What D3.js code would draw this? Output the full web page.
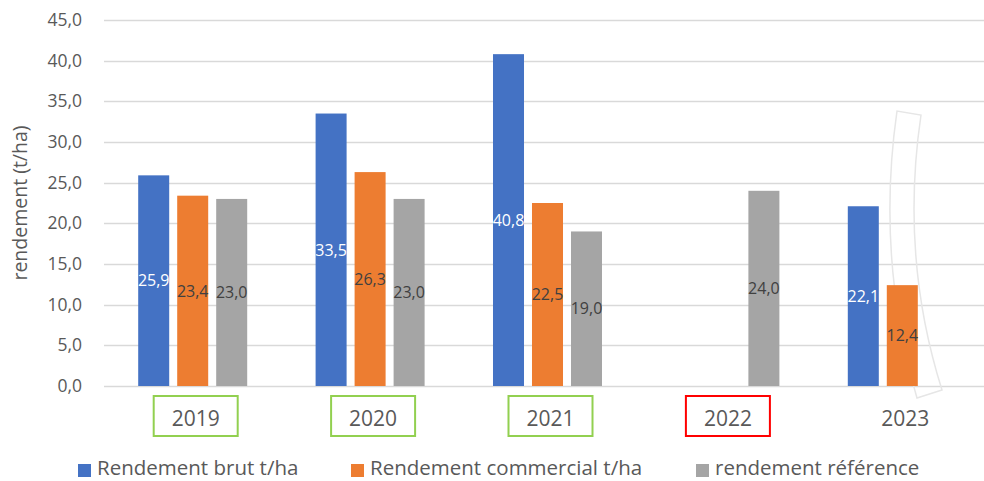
<!DOCTYPE html>
<html>
<head>
<meta charset="utf-8">
<script src="https://cdn.jsdelivr.net/npm/d3@7"></script>
<style>
    body { margin: 0; background: #fff; overflow: hidden; }
    text { font-family: "Open Sans", "Liberation Sans", sans-serif; }
</style>
</head>
<body>
<div id="chart"></div>
<script>
// data
const years = ["2019", "2020", "2021", "2022", "2023"];
const seriesNames = ["Rendement brut t/ha", "Rendement commercial t/ha", "rendement référence"];
const brut = [25.9, 33.5, 40.8, null, 22.1];
const commercial = [23.4, 26.3, 22.5, null, 12.4];
const reference = [23.0, 23.0, 19.0, 24.0, null];
const yTicks = [0, 5, 10, 15, 20, 25, 30, 35, 40, 45];

const colors = ["#4472C4", "#ED7D31", "#A5A5A5"];
const labelColors = ["#ffffff", "#404040", "#404040"];
// frames drawn around the year labels (2023 has none)
const frameColors = ["#92D050", "#92D050", "#92D050", "#FF0000", null];

const width = 984, height = 481;
const margin = {top: 20, right: -7, bottom: 95, left: 104};

let svg = d3.select("#chart").append("svg")
    .attr("width", width)
    .attr("height", height)
    .style("display", "block");

let x = d3.scaleBand()
    .domain(years)
    .range([margin.left, width - margin.right])
    .padding(0);

let groupW = 117;
let xInner = d3.scaleBand()
    .domain(d3.range(3))
    .range([(x.bandwidth() - groupW) / 2, (x.bandwidth() + groupW) / 2])
    .paddingInner(0.205)
    .paddingOuter(0.1025);

let y = d3.scaleLinear()
    .domain([0, 45])
    .range([height - margin.bottom, margin.top]);

let fmt = v => d3.format(".1f")(v).replace(".", ",");

// gridlines
svg.append("g")
    .selectAll("line")
    .data(yTicks)
    .enter()
    .append("line")
    .attr("x1", margin.left)
    .attr("x2", width)
    .attr("y1", d => Math.round(y(d)) + 0.5)
    .attr("y2", d => Math.round(y(d)) + 0.5)
    .attr("stroke", "#d9d9d9")
    .attr("stroke-width", 1.3);

// y tick labels
svg.append("g")
    .selectAll("text")
    .data(yTicks)
    .enter()
    .append("text")
    .attr("x", 82)
    .attr("y", d => y(d))
    .attr("dy", "0.35em")
    .attr("text-anchor", "end")
    .style("font-size", "17.5px")
    .style("fill", "#595959")
    .text(d => fmt(d));

// axis title
svg.append("text")
    .attr("transform", "translate(20," + y(22.5) + ") rotate(-90)")
    .attr("text-anchor", "middle")
    .attr("dy", "0.35em")
    .style("font-size", "19.5px")
    .style("fill", "#595959")
    .text("rendement (t/ha)");

// decorative curved frame near 2023
svg.append("path")
    .attr("d", "M897,111 Q876,257 917,398 L942,390 Q900,257 921,115 Z")
    .attr("fill", "none")
    .attr("stroke", "#e6e6e6")
    .attr("stroke-width", 1.5);

// bars
let rows = years.map((yr, i) => ({year: yr, values: [brut[i], commercial[i], reference[i]]}));

let groups = svg.selectAll(".group")
    .data(rows)
    .enter()
    .append("g")
    .attr("class", "group")
    .attr("transform", d => "translate(" + x(d.year) + ",0)");

let cells = groups.selectAll(".bar")
    .data(d => d.values.map((v, s) => ({s: s, v: v})).filter(e => e.v !== null))
    .enter();

cells.append("rect")
    .attr("class", "bar")
    .attr("x", d => xInner(d.s))
    .attr("width", xInner.bandwidth())
    .attr("y", d => y(d.v))
    .attr("height", d => y(0) - y(d.v))
    .attr("fill", d => colors[d.s]);

cells.append("text")
    .attr("x", d => xInner(d.s) + xInner.bandwidth() / 2)
    .attr("y", d => (y(d.v) + y(0)) / 2)
    .attr("dy", "0.36em")
    .attr("text-anchor", "middle")
    .style("font-size", "16px")
    .style("fill", d => labelColors[d.s])
    .text(d => fmt(d.v));

// year labels with frames
let cats = svg.append("g")
    .selectAll("g")
    .data(years)
    .enter()
    .append("g")
    .attr("transform", (d, i) => "translate(" + (x(d) + x.bandwidth() / 2 + 3) + ",416)");

cats.filter((d, i) => frameColors[i] !== null)
    .append("rect")
    .attr("x", -42)
    .attr("y", -20)
    .attr("width", 84)
    .attr("height", 40)
    .attr("fill", "none")
    .attr("stroke", (d, i) => frameColors[years.indexOf(d)])
    .attr("stroke-width", 2);

cats.append("text")
    .attr("text-anchor", "middle")
    .attr("y", 2)
    .attr("dy", "0.36em")
    .style("font-size", "21px")
    .style("fill", "#595959")
    .text(d => d);

// legend
let legendX = [78, 351, 696];
let legend = svg.append("g")
    .selectAll("g")
    .data(seriesNames)
    .enter()
    .append("g")
    .attr("transform", (d, i) => "translate(" + legendX[i] + ",464)");

legend.append("rect")
    .attr("width", 13)
    .attr("height", 13)
    .attr("fill", (d, i) => colors[i]);

legend.append("text")
    .attr("x", 19)
    .attr("y", 11)
    .style("font-size", "20.5px")
    .style("fill", "#595959")
    .text(d => d);
</script>
</body>
</html>
